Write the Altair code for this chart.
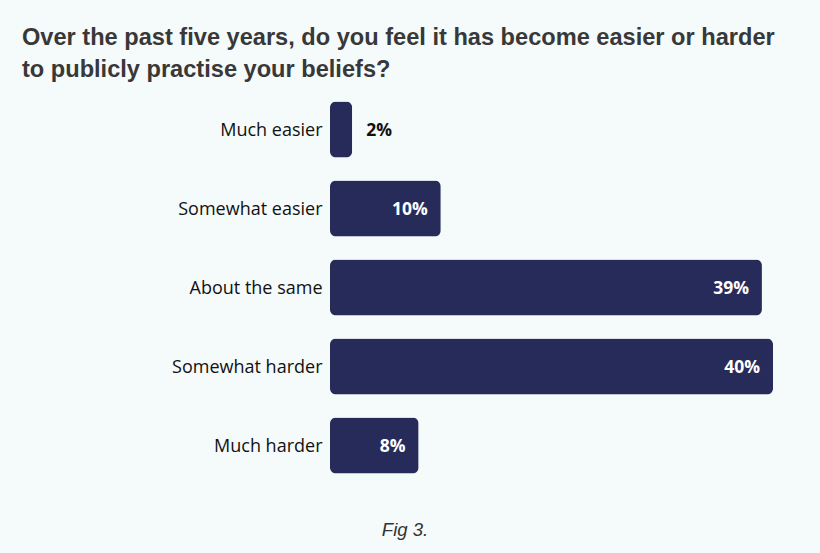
import altair as alt
import pandas as pd

categories = ["Much easier", "Somewhat easier", "About the same", "Somewhat harder", "Much harder"]
values = [2, 10, 39, 40, 8]
labels = ["2%", "10%", "39%", "40%", "8%"]
title_lines = ["Over the past five years, do you feel it has become easier or harder",
               "to publicly practise your beliefs?"]
caption = "Fig 3."

df = pd.DataFrame({"category": categories, "value": values, "label": labels})

BAR = "#272b5a"
y_enc = alt.Y("category:N", sort=categories, title=None,
              scale=alt.Scale(paddingInner=0.29, paddingOuter=0.145),
              axis=alt.Axis(domain=False, ticks=False, labelPadding=8, labelFontSize=18,
                            labelOffset=1.5, labelColor="#111111", labelFont="Open Sans",
                            labelLimit=300))
x_enc = alt.X("value:Q", title=None, axis=None, scale=alt.Scale(domain=[0, 40], nice=False))

base = alt.Chart(df)
bars = base.mark_bar(color=BAR, cornerRadius=6).encode(x=x_enc, y=y_enc)
inside = base.transform_filter("datum.value >= 5").mark_text(
    align="right", baseline="middle", dx=-13, dy=1.5, color="white", fontSize=17.5,
    fontWeight="bold", font="Open Sans").encode(x=x_enc, y=y_enc, text="label:N")
outside = base.transform_filter("datum.value < 5").mark_text(
    align="left", baseline="middle", dx=14, dy=1.5, color="#111111", fontSize=17.5,
    fontWeight="bold", font="Open Sans").encode(x=x_enc, y=y_enc, text="label:N")

tdf = pd.DataFrame({"t": ["\n".join(title_lines)]})
title = alt.Chart(tdf).mark_text(
    align="left", baseline="alphabetic", lineBreak="\n", lineHeight=32, fontSize=23.6,
    fontWeight="bold", font="Liberation Sans", color="#383838").encode(
    x=alt.value(-308), y=alt.value(-45), text="t:N")

cdf = pd.DataFrame({"c": [caption]})
cap = alt.Chart(cdf).mark_text(
    align="center", baseline="alphabetic", fontSize=18.5, fontStyle="italic",
    font="Liberation Sans", color="#333333").encode(
    x=alt.value(75), y=alt.value(446), text="c:N")

chart = alt.layer(bars, inside, outside, title, cap).properties(
    width=443, height=395,
    autosize=alt.AutoSizeParams(type="none"),
    padding={"left": 330, "top": 90, "right": 47, "bottom": 68},
    background="#f5fafb",
).configure_view(stroke=None)

chart.save("out.html", embed_options={"renderer": "svg", "actions": False})
